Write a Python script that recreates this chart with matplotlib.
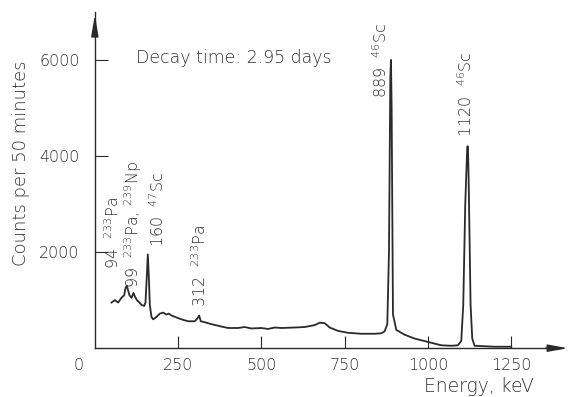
import matplotlib.pyplot as plt

plt.rcParams['mathtext.default'] = 'regular'
plt.rcParams['font.family'] = 'DejaVu Sans'
plt.rcParams['font.weight'] = 'light'
plt.rcParams['axes.labelweight'] = 'light'

# spectrum (keV, counts per 50 min)
energy = [50, 60, 70, 80, 88, 92, 96, 100, 104, 110, 116, 120, 126, 134, 140,
          148, 152, 156, 159, 162, 165, 170, 175, 185, 195, 205, 215, 222, 230,
          245, 260, 280, 300, 308, 313, 318, 330, 350, 380, 400, 430, 450, 470,
          500, 520, 540, 560, 600, 630, 660, 675, 690, 705, 730, 760, 800, 840,
          860, 870, 878, 883, 887, 889, 891, 895, 905, 930, 960, 1000, 1040,
          1070, 1090, 1100, 1106, 1112, 1118, 1120, 1122, 1128, 1133, 1140,
          1200, 1250]
counts = [950, 1000, 950, 1050, 1100, 1250, 1300, 1200, 1100, 1050, 1150, 1080,
          1000, 950, 900, 880, 950, 1500, 1950, 1500, 900, 650, 600, 650, 720,
          740, 700, 720, 680, 640, 600, 560, 560, 620, 680, 560, 540, 500, 450,
          420, 420, 440, 410, 420, 400, 430, 420, 430, 440, 480, 530, 520, 430,
          360, 320, 300, 300, 310, 350, 500, 2000, 5600, 6000, 5000, 700, 380,
          280, 200, 130, 60, 50, 60, 150, 900, 3000, 4200, 4200, 3600, 900, 200,
          50, 30, 30]

xticks = [250, 500, 750, 1000, 1250]
yticks = [2000, 4000, 6000]

peak_labels = ['94  $^{233}$Pa', '99  $^{233}$Pa, $^{239}$Np', '160  $^{47}$Sc',
               '312  $^{233}$Pa', '889  $^{46}$Sc', '1120  $^{46}$Sc']
label_x = [54, 116, 188, 315, 857, 1113]
label_y = [1650, 1250, 2100, 850, 5200, 4400]

ink = '#2a2a2a'
txt_col = '#333333'
fig = plt.figure(figsize=(5.68, 3.97), dpi=100)
ax = fig.add_axes([0.167, 0.123, 0.821, 0.847])

ax.plot(energy, counts, color=ink, lw=1.3)

ax.set_xlim(0, 1400)
ax.set_ylim(0, 7000)
for s in ['top', 'right']:
    ax.spines[s].set_visible(False)
for s in ['left', 'bottom']:
    ax.spines[s].set_color(ink)
    ax.spines[s].set_linewidth(1.0)

ax.set_xticks(xticks)
ax.set_yticks(yticks)
ax.tick_params(direction='in', length=9, width=0.8, colors=ink,
               labelsize=11.5, labelcolor=txt_col)
ax.tick_params(axis='x', pad=7)
ax.tick_params(axis='y', pad=11)

# arrow heads on the axes
ax.annotate('', xy=(1.02, 0), xycoords='axes fraction', xytext=(0.96, 0),
            arrowprops=dict(arrowstyle='-|>,head_length=1.2,head_width=0.22',
                            color=ink, lw=1.0))
ax.annotate('', xy=(0, 1.0), xycoords='axes fraction', xytext=(0, 0.93),
            arrowprops=dict(arrowstyle='-|>,head_length=1.3,head_width=0.22',
                            color=ink, lw=1.0))

ax.text(-48, -360, '0', ha='center', va='center', fontsize=11.5,
        color=txt_col, clip_on=False)

ax.set_ylabel('Counts per 50 minutes', fontsize=13, color=txt_col)
ax.yaxis.set_label_coords(-0.14, 0.55)
ax.text(0.942, -0.115, 'Energy, keV', transform=ax.transAxes, ha='right',
        va='center', fontsize=13.5, color=txt_col)

ax.text(125, 6040, 'Decay time: 2.95 days', ha='left', va='center',
        fontsize=12.5, color=txt_col)

for txt, x, y in zip(peak_labels, label_x, label_y):
    ax.text(x, y, txt, rotation=90, ha='center', va='bottom',
            fontsize=11.5, color=txt_col)

fig.savefig('out.png', dpi=100)
